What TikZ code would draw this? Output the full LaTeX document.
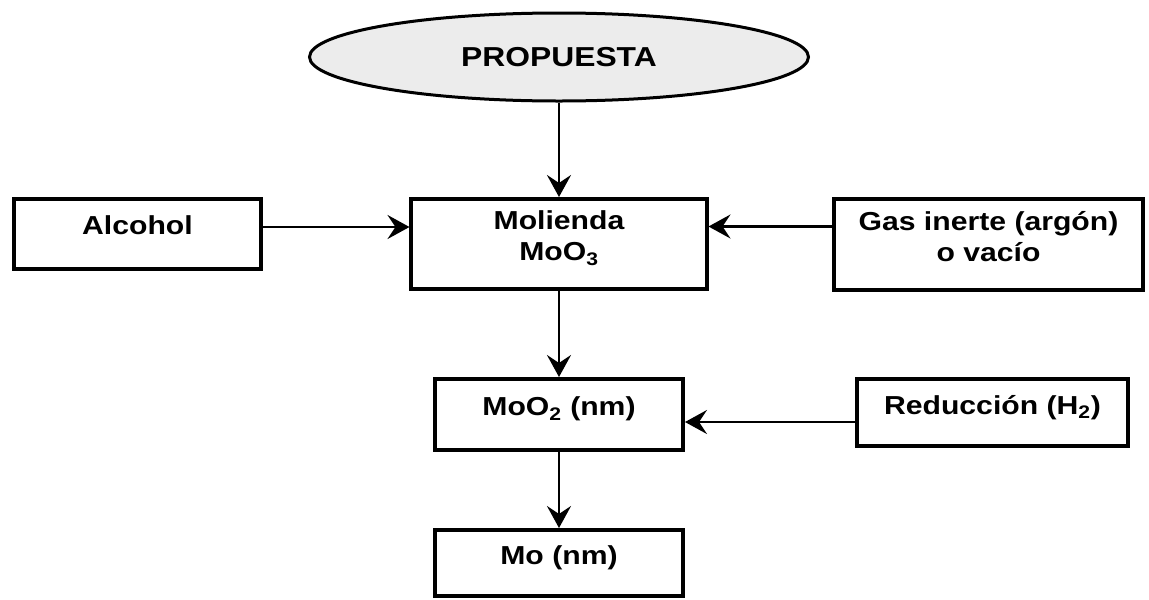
\documentclass[tikz,border=0pt]{standalone}
\usepackage{fontspec}
\setmainfont{Liberation Sans}[FakeStretch=1.16]
\usepackage{tikz}
\usetikzlibrary{arrows.meta, shapes.geometric}
\tikzstyle{fStart} = [ellipse, minimum width=12.475cm, minimum height=2.2cm, inner sep=0pt, text centered, line width=0.075cm, draw=black, fill=gray!15, font=\bfseries\fontsize{19.5}{23}\selectfont]
\tikzstyle{fProcess} = [rectangle, minimum width=7.375cm, minimum height=2.25cm, inner sep=0pt, align=center, text depth=0.4cm, line width=0.1cm, draw=black, font=\bfseries\fontsize{18.5}{22}\selectfont]
\tikzstyle{fInput} = [fProcess, minimum width=6.175cm, minimum height=1.75cm]
\tikzstyle{fArrow} = [line width=0.07cm, -{Stealth[length=0.55cm, width=0.6cm, inset=0.2cm]}]

\begin{document}
\begin{tikzpicture}
    \useasboundingbox (-13.975,1.425) rectangle (14.75,-13.55);
    \node (propuesta) [fStart] {PROPUESTA};
    \node (molienda) [fProcess, below of=propuesta, node distance=4.675cm] {Molienda\\MoO\textsubscript{3}};
    \node (alcohol) [fInput, left of=molienda, node distance=10.5375cm, yshift=0.2625cm] {Alcohol};
    \node (gas) [fProcess, right of=molienda, node distance=10.7375cm, minimum width=7.725cm, minimum height=2.275cm] {Gas inerte (argón)\\o vacío};
    \node (moo2) [fProcess, below of=molienda, node distance=4.2625cm, minimum width=6.2cm, minimum height=1.775cm] {MoO\textsubscript{2} (nm)};
    \node (reduccion) [fProcess, right of=moo2, node distance=10.8375cm, yshift=0.05cm, minimum width=6.775cm, minimum height=1.675cm] {Reducción (H\textsubscript{2})};
    \node (mo) [fProcess, below of=moo2, node distance=3.7125cm, minimum width=6.2cm, minimum height=1.65cm] {Mo (nm)};
    \coordinate (alcoholout) at ([yshift=0.1625cm]alcohol.east);
    \coordinate (gasout) at ([yshift=0.4375cm]gas.west);
    \coordinate (reduccionout) at ([yshift=-0.2375cm]reduccion.west);

    \draw [fArrow] (propuesta) -- (molienda);
    \draw [fArrow] (alcoholout) -- (alcoholout -| molienda.west);
    \draw [fArrow] (gasout) -- (gasout -| molienda.east);
    \draw [fArrow] (molienda) -- (moo2);
    \draw [fArrow] (reduccionout) -- (reduccionout -| moo2.east);
    \draw [fArrow] (moo2) -- (mo);
\end{tikzpicture}
\end{document}
